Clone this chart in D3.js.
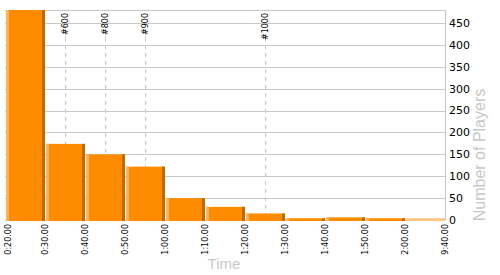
<!DOCTYPE html>
<html>
<head>
<meta charset="utf-8">
<script src="https://cdn.jsdelivr.net/npm/d3@7/dist/d3.min.js"></script>
<style>
  body { margin: 0; background: #fff; }
  text { font-family: "DejaVu Sans", Verdana, sans-serif; }
</style>
</head>
<body>
<script>
// bin edges in seconds, the last bin (2:00 -> 9:40) holds everything slower
const binEdges = [20, 30, 40, 50, 60, 70, 80, 90, 100, 110, 120, 580];
const playerCounts = [520, 174, 150, 122, 50, 30, 15, 4, 6, 4, 4];
const yTicks = [0, 50, 100, 150, 200, 250, 300, 350, 400, 450];
// rank markers
const markerNames = ["#600", "#800", "#900", "#1000"];
const markerTimes = [35, 45, 55, 85];

const w = 500;
const h = 275;
const plotLeft = 5, plotRight = 445, plotTop = 10, plotBottom = 220;

const fmtTime = t => Math.floor(t / 60) + ":" + d3.format("02")(t % 60) + ".00";

// piecewise scale: every bin gets the same width, overflow bin included
const x = d3.scaleLinear()
  .domain(binEdges)
  .range(binEdges.map((d, i) => plotLeft + i * (plotRight - plotLeft) / (binEdges.length - 1)));

const y = d3.scaleLinear()
  .domain([0, 480])
  .range([plotBottom, plotTop]);

const svg = d3.select("body")
  .append("svg")
  .attr("width", w)
  .attr("height", h);

svg.append("clipPath")
  .attr("id", "plot")
  .append("rect")
  .attr("x", plotLeft)
  .attr("y", plotTop)
  .attr("width", plotRight - plotLeft)
  .attr("height", plotBottom - plotTop + 1);

//网格线
svg.append("g")
  .selectAll("line")
  .data(yTicks.concat([480]))
  .enter()
  .append("line")
  .attr("x1", plotLeft)
  .attr("x2", plotRight)
  .attr("y1", d => Math.round(y(d)) + 0.5)
  .attr("y2", d => Math.round(y(d)) + 0.5)
  .attr("stroke", "#c8c8c8");

// marker lines, behind the bars
const markers = svg.append("g")
  .selectAll("g")
  .data(markerTimes)
  .enter()
  .append("g")
  .attr("transform", d => "translate(" + (Math.round(x(d)) + 0.5) + ",0)");

markers.append("line")
  .attr("y1", 37)
  .attr("y2", plotBottom)
  .attr("stroke", "#c8c8c8")
  .attr("stroke-dasharray", "4,4");

markers.append("text")
  .attr("transform", "translate(0," + (plotTop + 3) + ") rotate(-90)")
  .attr("text-anchor", "end")
  .attr("dy", "0.35em")
  .attr("font-size", 8)
  .attr("fill", "#000")
  .text((d, i) => markerNames[i]);

//柱子
const bars = svg.append("g")
  .attr("clip-path", "url(#plot)")
  .selectAll("g")
  .data(playerCounts)
  .enter()
  .append("g");

const isOverflow = i => i === playerCounts.length - 1;

bars.append("rect")
  .attr("x", (d, i) => x(binEdges[i]) + 1)
  .attr("y", d => y(d))
  .attr("width", (d, i) => x(binEdges[i + 1]) - x(binEdges[i]) - 1)
  .attr("height", d => plotBottom + 1 - y(d))
  .attr("fill", (d, i) => isOverflow(i) ? "#ffc47f" : "#ff8c00");

// light left edge and dark right edge
bars.filter((d, i) => !isOverflow(i))
  .append("rect")
  .attr("x", (d, i) => x(binEdges[i]) + 1)
  .attr("y", d => y(d))
  .attr("width", 3)
  .attr("height", d => plotBottom + 1 - y(d))
  .attr("fill", "#ffb35c");

bars.filter((d, i) => !isOverflow(i))
  .append("rect")
  .attr("x", (d, i) => x(binEdges[i + 1]) - 3)
  .attr("y", d => y(d))
  .attr("width", 3)
  .attr("height", d => plotBottom + 1 - y(d))
  .attr("fill", "#c46a00");

// right axis
svg.append("line")
  .attr("x1", plotRight + 0.5)
  .attr("x2", plotRight + 0.5)
  .attr("y1", plotTop)
  .attr("y2", plotBottom)
  .attr("stroke", "#c8c8c8");

svg.append("g")
  .selectAll("text")
  .data(yTicks)
  .enter()
  .append("text")
  .attr("x", plotRight + 4)
  .attr("y", d => y(d))
  .attr("dy", "0.35em")
  .attr("font-size", 11)
  .attr("fill", "#000")
  .text(d => d);

// bottom tick labels
svg.append("g")
  .selectAll("text")
  .data(binEdges)
  .enter()
  .append("text")
  .attr("transform", (d, i) => "translate(" + (x(d) + (i === 0 ? 3 : 0)) + "," + (plotBottom + 4) + ") rotate(-90)")
  .attr("text-anchor", "end")
  .attr("dy", "0.35em")
  .attr("font-size", 8)
  .attr("fill", "#000")
  .text(fmtTime);

// axis titles
svg.append("text")
  .attr("x", 224)
  .attr("y", 269)
  .attr("text-anchor", "middle")
  .style("font-family", "'Liberation Sans', Arial, sans-serif")
  .attr("font-size", 15)
  .attr("fill", "#c8c8c8")
  .text("Time");

svg.append("text")
  .attr("transform", "translate(485," + 155 + ") rotate(-90)")
  .attr("text-anchor", "middle")
  .style("font-family", "'Liberation Sans', Arial, sans-serif")
  .attr("font-size", 16)
  .attr("fill", "#c8c8c8")
  .text("Number of Players");
</script>
</body>
</html>
